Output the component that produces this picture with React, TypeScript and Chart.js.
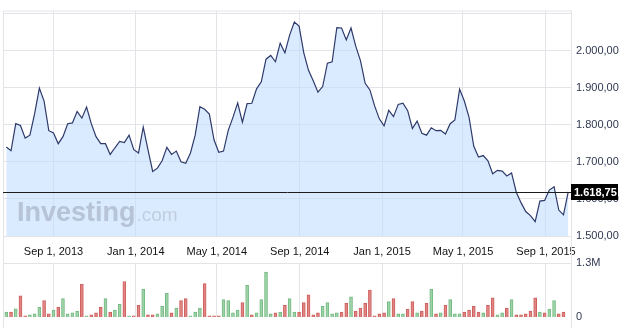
import React, { useEffect, useRef } from 'react';
import { Chart, registerables } from 'chart.js';

Chart.register(...registerables);

// ---- data ----
const startDate = '2013-06-23'; // first weekly point
const prices = [
  1740, 1730, 1803, 1798, 1764, 1772, 1830, 1899, 1864, 1784,
  1778, 1749, 1768, 1803, 1805, 1836, 1818, 1848, 1803, 1768,
  1749, 1749, 1720, 1738, 1755, 1752, 1772, 1733, 1724, 1794,
  1733, 1674, 1683, 1703, 1739, 1720, 1729, 1700, 1696, 1724,
  1772, 1849, 1842, 1829, 1759, 1726, 1729, 1785, 1820, 1859,
  1807, 1857, 1858, 1897, 1916, 1977, 1987, 1970, 2020, 1994,
  2042, 2077, 2066, 1994, 1947, 1919, 1888, 1903, 1966, 1970,
  2062, 2061, 2029, 2061, 2012, 1973, 1912, 1894, 1851, 1816,
  1797, 1839, 1822, 1855, 1858, 1838, 1790, 1810, 1777, 1772,
  1792, 1784, 1785, 1775, 1803, 1813, 1896, 1864, 1820, 1742,
  1713, 1717, 1703, 1668, 1677, 1675, 1662, 1670, 1618, 1590,
  1566, 1555, 1539, 1594, 1596, 1624, 1633, 1570, 1557, 1618.75,
];
// weekly volume, thousands
const volumes = [
  130, 130, 205, 516, 39, 61, 84, 243, 402, 84,
  175, 243, 448, 84, 107, 152, 789, 39, 61, 107,
  243, 448, 130, 175, 311, 857, 39, 39, 289, 675,
  61, 61, 84, 266, 584, 107, 220, 402, 448, 39,
  130, 220, 811, 39, 39, 39, 425, 402, 107, 175,
  357, 766, 61, 107, 425, 1084, 84, 107, 130, 289,
  448, 130, 130, 357, 539, 61, 107, 266, 357, 84,
  107, 130, 334, 493, 152, 220, 334, 652, 39, 84,
  107, 380, 448, 84, 84, 198, 380, 107, 152, 334,
  675, 84, 107, 289, 425, 84, 84, 130, 175, 266,
  130, 107, 289, 470, 61, 107, 220, 425, 61, 61,
  84, 152, 470, 130, 107, 198, 402, 84, 130, 0,
];
// g = up week, r = down week
const volumeDirection = (
  'grgrrgggrr' + 'grggggrgrr' + 'rgrggrgrrg' + 'rrgggrgrrg' +
  'ggrrrrgggg' + 'rgrggggrgr' + 'ggrrrrrggg' + 'grrgrrrrrr' +
  'rgrggrrgrr' + 'grgrgggrrr' + 'rgrrggrgrr' + 'rrrgrggrrg'
).split('');

const tickDates = ['2013-09-01', '2014-01-01', '2014-05-01', '2014-09-01', '2015-01-01', '2015-05-01', '2015-09-01'];
const tickLabels = ['Sep 1, 2013', 'Jan 1, 2014', 'May 1, 2014', 'Sep 1, 2014', 'Jan 1, 2015', 'May 1, 2015', 'Sep 1, 2015'];
const priceTicks = [1500, 1600, 1700, 1800, 1900, 2000, 2100];
const priceTickLabels = ['1.500,00', '1.600,00', '1.700,00', '1.800,00', '1.900,00', '2.000,00', ''];
const volumeTicks = [0, 1300];
const volumeTickLabels = ['0', '1.3M'];
const lastPriceLabel = '1.618,75';

// ---- styling ----
const FONT = 'Arial, "Liberation Sans", sans-serif';
const GRID = '#e3e4e8';
const AXIS_TEXT = '#2f3850';
const X_MIN = -0.7;
const X_MAX = 119.8;
const WEEK = 7 * 24 * 3600 * 1000;
const tickPos = tickDates.map((d) => (Date.parse(d) - Date.parse(startDate)) / WEEK);

export default function App() {
  const topRef = useRef<HTMLCanvasElement | null>(null);
  const botRef = useRef<HTMLCanvasElement | null>(null);

  useEffect(() => {
    document.body.style.margin = '0';
    const lastPrice = prices[prices.length - 1];

    const overlay = {
      id: 'overlay',
      afterDatasetsDraw(chart: any) {
        const { ctx, chartArea } = chart;
        const { left, right, top, bottom } = chartArea;
        const y = chart.scales.y;
        ctx.save();
        // watermark
        ctx.textBaseline = 'alphabetic';
        ctx.textAlign = 'left';
        ctx.font = `bold 27px ${FONT}`;
        ctx.fillStyle = '#b7c3d6';
        const wx = left + 14;
        const wy = bottom - 15;
        ctx.fillText('Investing', wx, wy);
        const w = ctx.measureText('Investing').width;
        ctx.font = `19px ${FONT}`;
        ctx.fillStyle = '#c2cee0';
        ctx.fillText('.com', wx + w + 1, wy);
        // frame
        ctx.strokeStyle = GRID;
        ctx.lineWidth = 1;
        ctx.beginPath();
        ctx.moveTo(left, top + 0.5);
        ctx.lineTo(right, top + 0.5);
        ctx.moveTo(left + 0.5, top);
        ctx.lineTo(left + 0.5, chart.height);
        ctx.moveTo(right - 0.5, top);
        ctx.lineTo(right - 0.5, chart.height);
        ctx.stroke();
        // current price line + label
        const py = Math.round(y.getPixelForValue(lastPrice)) + 0.5;
        ctx.strokeStyle = '#1c1c1c';
        ctx.beginPath();
        ctx.moveTo(left, py);
        ctx.lineTo(right, py);
        ctx.stroke();
        ctx.fillStyle = '#000';
        ctx.fillRect(right - 1, py - 8.5, 47, 16);
        ctx.fillStyle = '#fff';
        ctx.font = `bold 11px ${FONT}`;
        ctx.textBaseline = 'middle';
        ctx.fillText(lastPriceLabel, right + 2, py + 0.5);
        ctx.restore();
      },
    };

    const top = new Chart(topRef.current as HTMLCanvasElement, {
      type: 'line',
      data: {
        datasets: [
          {
            data: prices.map((p, i) => ({ x: i, y: p })),
            borderColor: '#2e3a6a',
            borderWidth: 1.2,
            backgroundColor: 'rgba(196,221,255,0.62)',
            fill: 'start',
            pointRadius: 0,
            tension: 0,
          },
        ],
      },
      options: {
        responsive: false,
        animation: false,
        events: [],
        layout: { padding: { left: 3, top: 3, right: 0, bottom: 66 } },
        plugins: { legend: { display: false }, tooltip: { enabled: false } },
        scales: {
          x: {
            type: 'linear',
            min: X_MIN,
            max: X_MAX,
            offset: false,
            grid: { color: GRID, drawTicks: false, offset: false },
            border: { display: false },
            ticks: {
              autoSkip: false,
              maxRotation: 0,
              padding: 9,
              color: '#111',
              font: { family: FONT, size: 11 },
              callback: (_v: any, i: number) => tickLabels[i],
            },
            afterBuildTicks: (s: any) => {
              s.ticks = tickPos.map((v) => ({ value: v }));
            },
            afterFit: (s: any) => {
              s.height = 26;
            },
          },
          y: {
            position: 'right',
            min: 1500,
            max: 2108,
            grid: { color: GRID, drawTicks: false },
            border: { display: false },
            ticks: {
              padding: 4,
              color: AXIS_TEXT,
              font: { family: FONT, size: 11 },
              callback: (_v: any, i: number) => priceTickLabels[i],
            },
            afterBuildTicks: (s: any) => {
              s.ticks = priceTicks.map((v) => ({ value: v }));
            },
            afterFit: (s: any) => {
              s.width = 59;
            },
          },
        },
      } as any,
      plugins: [overlay],
    });

    const volFrame = {
      id: 'volFrame',
      afterDraw(chart: any) {
        const { ctx, chartArea } = chart;
        ctx.save();
        ctx.strokeStyle = GRID;
        ctx.lineWidth = 1;
        ctx.beginPath();
        ctx.moveTo(chartArea.left, chartArea.top + 0.5);
        ctx.lineTo(chartArea.right, chartArea.top + 0.5);
        ctx.stroke();
        ctx.restore();
      },
    };

    const bottom = new Chart(botRef.current as HTMLCanvasElement, {
      type: 'bar',
      data: {
        datasets: [
          {
            data: volumes.map((v, i) => ({ x: i, y: v })),
            backgroundColor: (c: any) => (volumeDirection[c.dataIndex] === 'g' ? '#9dd3a7' : '#e08583'),
            borderColor: (c: any) => (volumeDirection[c.dataIndex] === 'g' ? '#74b982' : '#cd605e'),
            borderWidth: 1,
            barThickness: 3,
          },
        ],
      },
      options: {
        responsive: false,
        animation: false,
        events: [],
        layout: { padding: { left: 3, top: 263, right: 0, bottom: 7.5 } },
        plugins: { legend: { display: false }, tooltip: { enabled: false } },
        scales: {
          x: {
            type: 'linear',
            min: X_MIN,
            max: X_MAX,
            offset: false,
            grid: { color: GRID, drawTicks: false, offset: false },
            border: { display: false },
            ticks: { display: false },
            afterBuildTicks: (s: any) => {
              s.ticks = tickPos.map((v) => ({ value: v }));
            },
            afterFit: (s: any) => {
              s.height = 0;
            },
          },
          y: {
            position: 'right',
            min: 0,
            max: 1300,
            grid: {
              color: (c: any) => (c.tick && c.tick.value === 0 ? 'rgba(0,0,0,0)' : GRID),
              drawTicks: false,
            },
            border: { display: false },
            ticks: {
              padding: 4,
              color: AXIS_TEXT,
              font: { family: FONT, size: 11 },
              callback: (_v: any, i: number) => volumeTickLabels[i],
            },
            afterBuildTicks: (s: any) => {
              s.ticks = volumeTicks.map((v) => ({ value: v }));
            },
            afterFit: (s: any) => {
              s.width = 59;
            },
          },
        },
      } as any,
      plugins: [volFrame],
    });

    return () => {
      top.destroy();
      bottom.destroy();
    };
  }, []);

  return (
    <div style={{ position: 'fixed', left: 0, top: 0, width: 631, height: 328, background: '#fff' }}>
      <canvas ref={topRef} width={631} height={328} style={{ position: 'absolute', left: 0, top: 0, display: 'block' }} />
      <canvas ref={botRef} width={631} height={328} style={{ position: 'absolute', left: 0, top: 0, display: 'block' }} />
    </div>
  );
}
